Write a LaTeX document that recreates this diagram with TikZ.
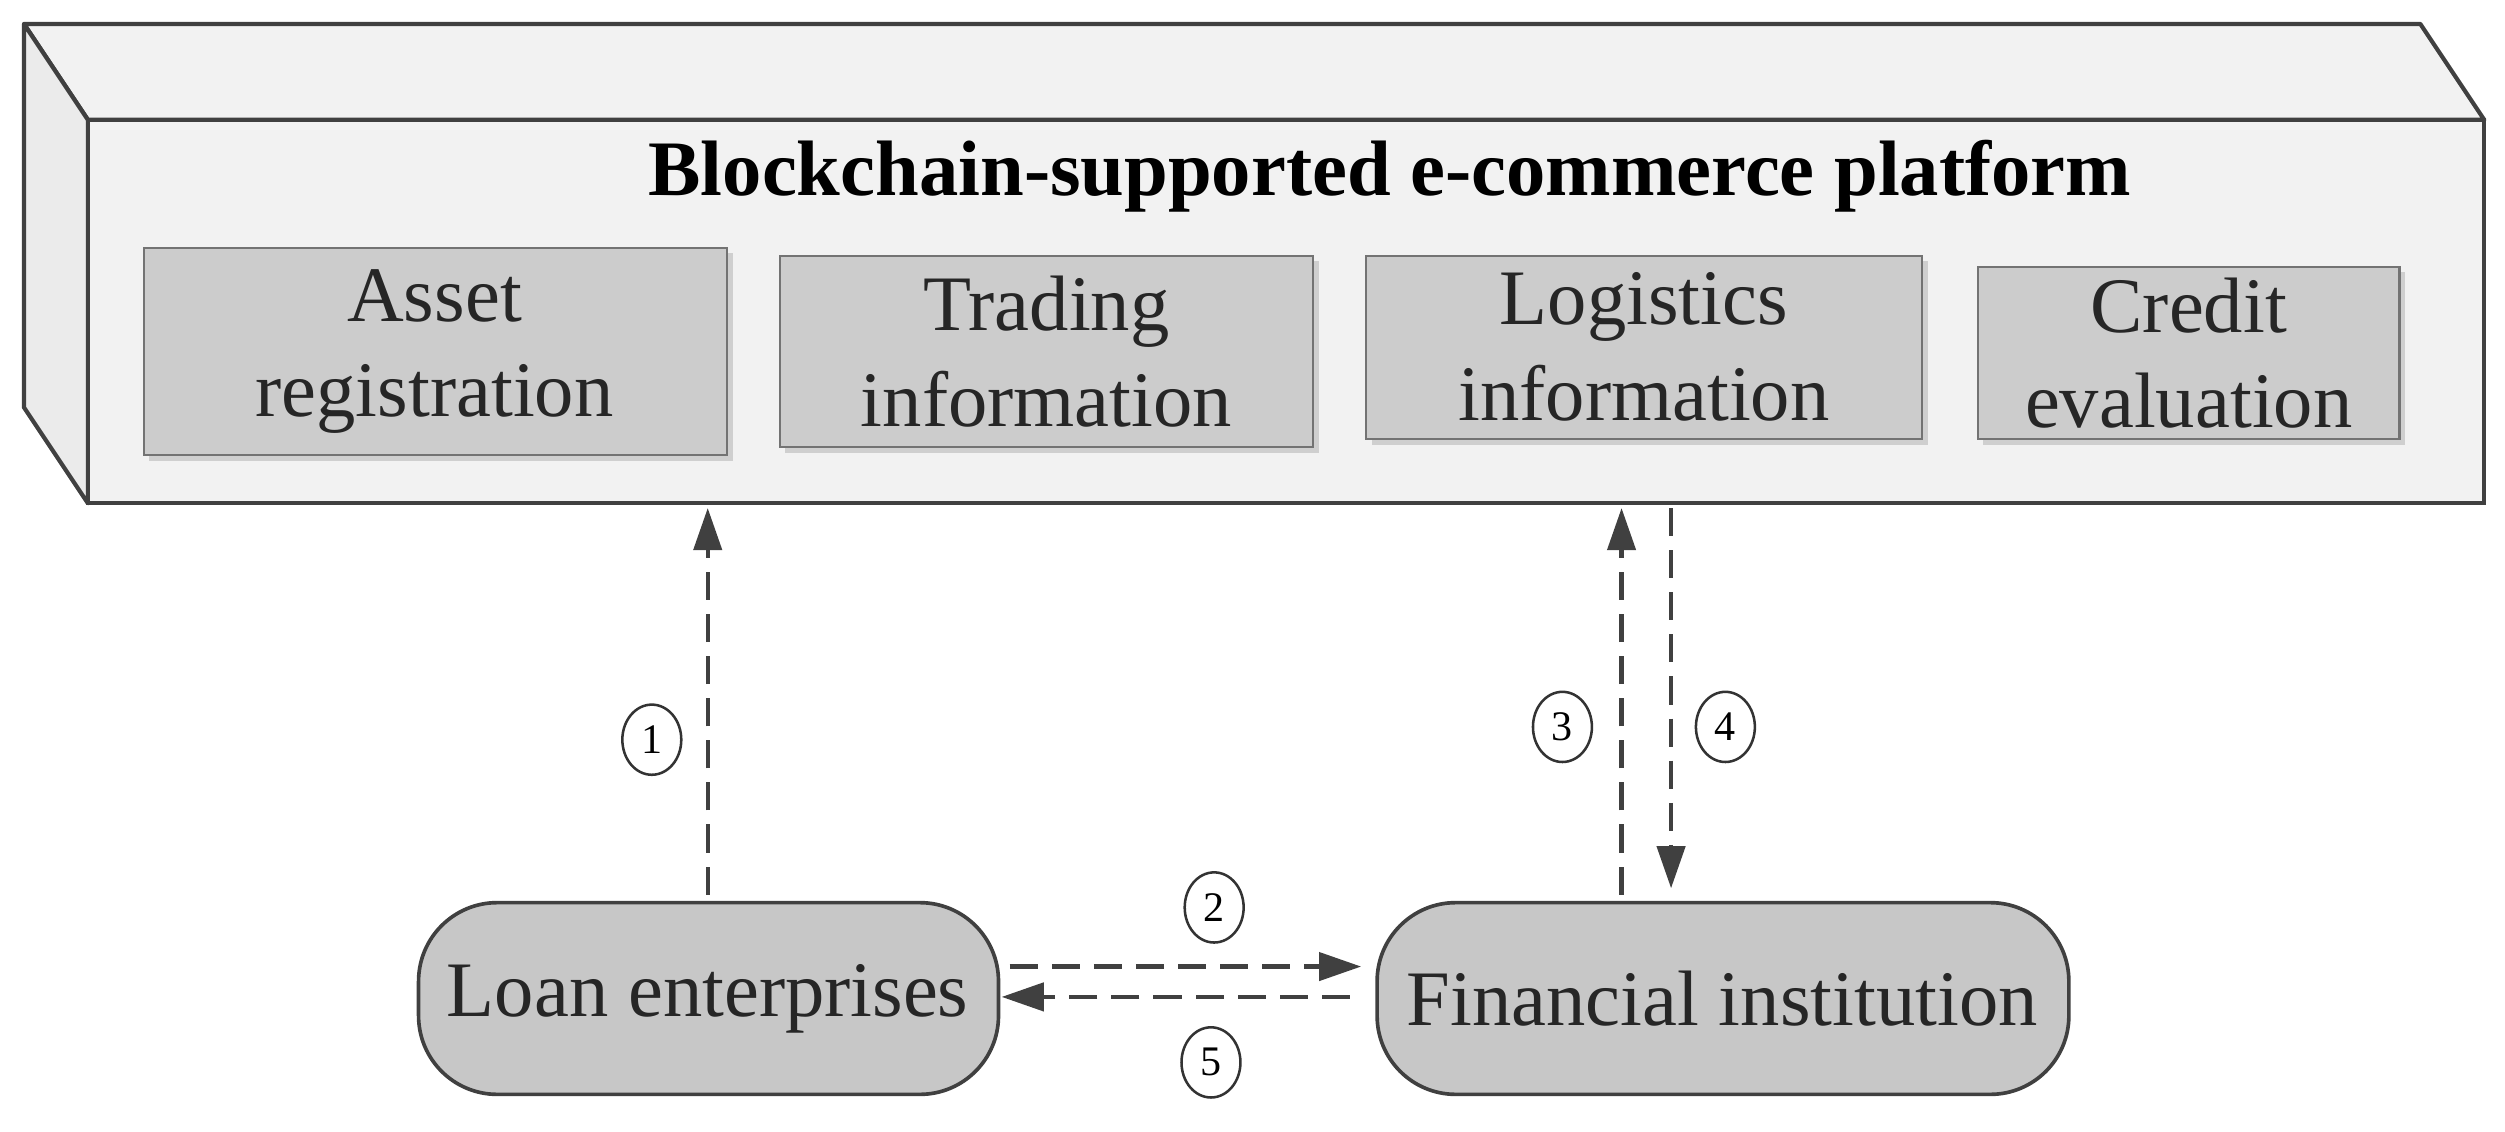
\documentclass[tikz,border=0pt]{standalone}
\usepackage{fontspec}
\setmainfont{Liberation Serif}
\usetikzlibrary{arrows.meta,shadows,shapes.geometric}
\begin{document}
\begin{tikzpicture}[x=0.02cm,y=-0.02cm,
  inner/.style={draw=black!55,fill=black!20,line width=0.8pt,drop shadow={opacity=0.3,shadow xshift=2pt,shadow yshift=-2pt}},
  ent/.style={draw=black!75,fill=black!22,line width=1.3pt,rounded corners=28pt},
  txt/.style={font=\fontsize{28}{34}\selectfont,align=center,text=black!85},
  num/.style={ellipse,draw=black!80,line width=0.9pt,fill=white,minimum width=21pt,minimum height=25pt,inner sep=0pt,font=\fontsize{15}{15}\selectfont},
  arr/.style={draw=black!75,line width=1.5pt,dash pattern=on 10pt off 5pt,-{Triangle[length=15pt,width=10pt]}}]
\useasboundingbox (0,0) rectangle (1568,708);
% platform box
\draw[fill=black!5,line width=1.5pt,draw=black!75,line join=round] (15,15)--(1515,15)--(1555,75)--(55,75)--cycle;
\draw[fill=black!8,line width=1.5pt,draw=black!75,line join=round] (15,15)--(55,75)--(55,315)--(15,255)--cycle;
\draw[fill=black!5,line width=1.5pt,draw=black!75] (55,75) rectangle (1555,315);
\node[font=\fontsize{28}{32}\selectfont\bfseries] (title) at (870,110) {Blockchain-supported e-commerce platform};
\coordinate (pl1) at (443,318);
\coordinate (pl3) at (1015,318);
\coordinate (pl4) at (1046,318);
% inner boxes
\draw[inner] (90,155) rectangle (455,285);
\node[txt] (asset) at (272,220) {Asset\\registration};
\draw[inner] (488,160) rectangle (822,280);
\node[txt] (trade) at (655,220) {Trading\\information};
\draw[inner] (855,160) rectangle (1203,275);
\node[txt] (logi) at (1029,217) {Logistics\\information};
\draw[inner] (1238,167) rectangle (1502,275);
\node[txt] (cred) at (1370,221) {Credit\\evaluation};
% entities
\draw[ent] (262,565) rectangle (625,685);
\node[txt] (loan) at (443,625) {Loan enterprises};
\draw[ent] (862,565) rectangle (1295,685);
\node[txt] (fin) at (1078,625) {Financial institution};
\coordinate (l1) at (443,560);
\coordinate (f3) at (1015,560);
\coordinate (f4) at (1046,556);
\coordinate (l2) at (632,605);
\coordinate (f2) at (852,605);
\coordinate (f5) at (845,624);
\coordinate (l5) at (627,624);
\draw[arr] (l1)--(pl1);
\draw[arr] (f3)--(pl3);
\draw[arr] (pl4)--(f4);
\draw[arr] (l2)--(f2);
\draw[arr] (f5)--(l5);
\node[num] (n1) at (408,463) {1};
\node[num] (n3) at (978,455) {3};
\node[num] (n4) at (1080,455) {4};
\node[num] (n2) at (760,568) {2};
\node[num] (n5) at (758,665) {5};
\end{tikzpicture}
\end{document}
